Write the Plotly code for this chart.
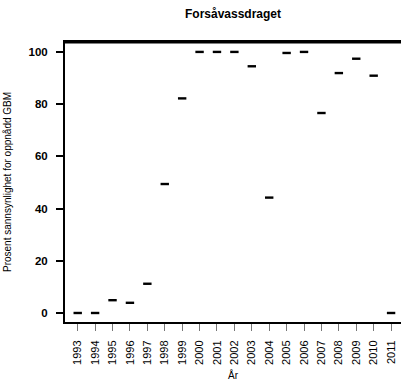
import plotly.graph_objects as go

years = list(range(1993, 2012))
prob = [0, 0, 4.9, 3.9, 11.2, 49.4, 82.2, 100, 100, 100, 94.5, 44.2,
        99.6, 100, 76.6, 91.9, 97.4, 90.9, 0]
yticks = [0, 20, 40, 60, 80, 100]

x_lo, x_hi = 1992.27, 2011.57
y_lo, y_hi = -3.45, 103.8

fig = go.Figure()
fig.add_trace(go.Scatter(
    x=years, y=prob, mode='markers',
    marker=dict(symbol='line-ew', size=6, line=dict(width=2.4, color='black')),
    showlegend=False, cliponaxis=False
))
# top border of the box, drawn as a plain line along the upper edge
fig.add_trace(go.Scatter(
    x=[x_lo, x_hi], y=[y_hi - 0.3, y_hi - 0.3], mode='lines',
    line=dict(color='black', width=1.5), showlegend=False, hoverinfo='skip'
))

font = "Liberation Sans, Arial, sans-serif"
fig.update_layout(
    width=401, height=383,
    margin=dict(l=65, r=0, t=42, b=61, autoexpand=False),
    plot_bgcolor='white', paper_bgcolor='white',
    font=dict(family=font, color='black'),
    title=dict(text='<b>Forsåvassdraget</b>', x=0.5, xref='paper', xanchor='center',
               y=1 - 14 / 383, yanchor='middle', font=dict(size=12)),
    xaxis=dict(
        range=[x_lo, x_hi], tickmode='array', tickvals=years,
        ticktext=[str(y) for y in years], tickangle=-90,
        showline=True, linewidth=2, linecolor='black', mirror=True,
        ticks='outside', ticklen=7, tickwidth=1, tickcolor='#777777',
        ticklabelstandoff=5, tickfont=dict(size=11), automargin=False,
        showgrid=False, zeroline=False,
        title=dict(text='År', font=dict(size=10), standoff=8),
    ),
    yaxis=dict(
        range=[y_lo, y_hi], tickmode='array', tickvals=yticks,
        ticktext=['<b>%d</b>' % v for v in yticks],
        showline=True, linewidth=2, linecolor='black',
        ticks='outside', ticklen=7, tickwidth=2, tickcolor='black',
        ticklabelstandoff=6, tickfont=dict(size=11.5), automargin=False,
        showgrid=False, zeroline=False,
        title=dict(text='Prosent sannsynlighet for oppnådd GBM', font=dict(size=10), standoff=15),
    ),
)

# page body has an 8px default margin; drop it so the figure sits at the corner
fig.write_html("out.html", config={'displayModeBar': False},
               post_script="document.body.style.margin='0px';")
